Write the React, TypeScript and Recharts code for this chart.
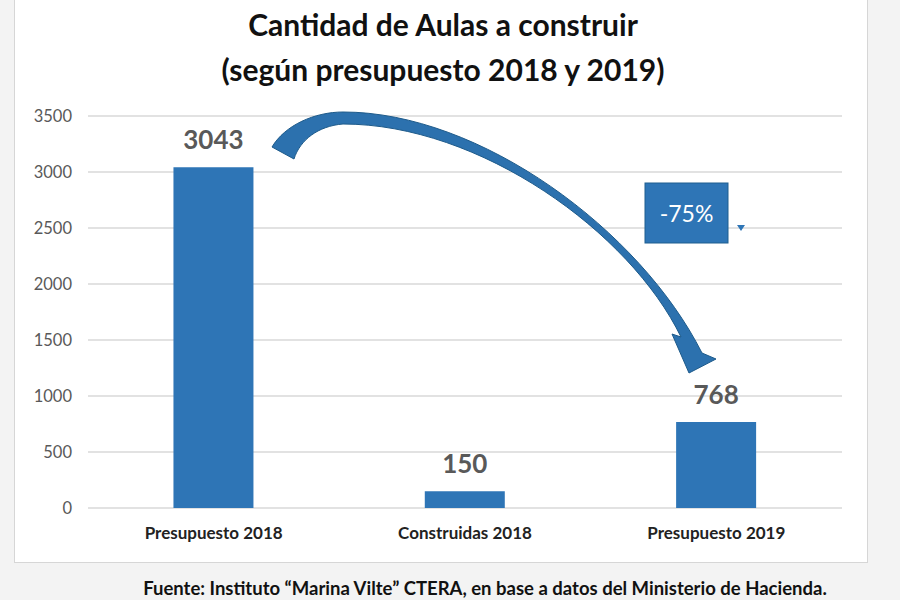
import React from "react";
import { BarChart, Bar, XAxis, YAxis, CartesianGrid, LabelList } from "recharts";

const categories = ["Presupuesto 2018", "Construidas 2018", "Presupuesto 2019"];
const aulas = [3043, 150, 768];
const yTicks = [0, 500, 1000, 1500, 2000, 2500, 3000, 3500];
const titleLines = ["Cantidad de Aulas a construir", "(según presupuesto 2018 y 2019)"];
const changeLabel = "-75%";
const sourceNote = "Fuente: Instituto \u201cMarina Vilte\u201d CTERA, en base a datos del Ministerio de Hacienda.";

const data = categories.map((c, i) => ({ name: c, value: aulas[i] }));

const W = 900;
const CH = 560;
const M = { top: 116, right: 58, bottom: 22, left: 28 };
const Y_W = 60;
const BLUE = "#2e75b6";
const FONT = "Lato, 'Open Sans', sans-serif";

const Arrow = () => {
  const d = [
    "M 272 147",
    "C 285 125 315 112 343 112",
    "C 480 112 640 230 702 353",
    "L 716 359",
    "L 689 373",
    "L 672 334",
    "L 681 337",
    "C 630 232 480 124 343 124",
    "C 318 126 300 140 294 159",
    "Z",
  ].join(" ");
  return (
    <svg
      width={W}
      height={600}
      style={{ position: "absolute", left: 0, top: 0, pointerEvents: "none" }}
    >
      <path d={d} fill="#2c71ae" stroke="#1d5a8a" strokeWidth={1} />
      <rect x={645} y={183} width={83} height={60} fill={BLUE} stroke="#1f5f8f" strokeWidth={1} />
      <text
        x={686.5}
        y={222}
        textAnchor="middle"
        fill="#ffffff"
        fontFamily={FONT}
        fontSize={23}
      >
        {changeLabel}
      </text>
      <path d="M 737 225 L 745 225 L 741 231 Z" fill={BLUE} />
    </svg>
  );
};

export default function App() {
  return (
    <div
      style={{
        position: "absolute",
        left: 0,
        top: 0,
        width: W,
        height: 600,
        background: "#f3f3f3",
        fontFamily: FONT,
        overflow: "hidden",
      }}
    >
      <div
        style={{
          position: "absolute",
          left: 14,
          top: -2,
          width: 852,
          height: 563,
          background: "#ffffff",
          border: "1px solid #d6d6d6",
        }}
      />
      {titleLines.map((t, i) => (
        <div
          key={i}
          style={{
            position: "absolute",
            left: 0,
            width: 886,
            top: 5 + i * 45,
            textAlign: "center",
            fontSize: 30,
            fontWeight: 700,
            color: "#111111",
            lineHeight: "38px",
          }}
        >
          {t}
        </div>
      ))}
      <div style={{ position: "absolute", left: 0, top: 0 }}>
        <BarChart width={W} height={CH} data={data} margin={M} barCategoryGap="34%">
          <CartesianGrid vertical={false} stroke="#d9d9d9" strokeWidth={1.5} />
          <XAxis
            dataKey="name"
            height={30}
            axisLine={false}
            tickLine={false}
            tickMargin={13}
            tick={{ fill: "#222222", fontSize: 17, fontWeight: 700, fontFamily: FONT }}
          />
          <YAxis
            width={Y_W}
            domain={[0, 3500]}
            ticks={yTicks}
            axisLine={false}
            tickLine={false}
            tickMargin={10}
            tick={{ fill: "#595959", fontSize: 16.5, fontFamily: FONT }}
          />
          <Bar dataKey="value" fill={BLUE} isAnimationActive={false}>
            <LabelList
              dataKey="value"
              position="top"
              offset={18}
              fill="#595959"
              fontSize={26}
              fontWeight={700}
              fontFamily={FONT}
            />
          </Bar>
        </BarChart>
      </div>
      <Arrow />
      <div
        style={{
          position: "absolute",
          left: 0,
          width: 970,
          top: 576,
          textAlign: "center",
          fontSize: 18.5,
          fontWeight: 700,
          color: "#111111",
          lineHeight: "24px",
        }}
      >
        {sourceNote}
      </div>
    </div>
  );
}
